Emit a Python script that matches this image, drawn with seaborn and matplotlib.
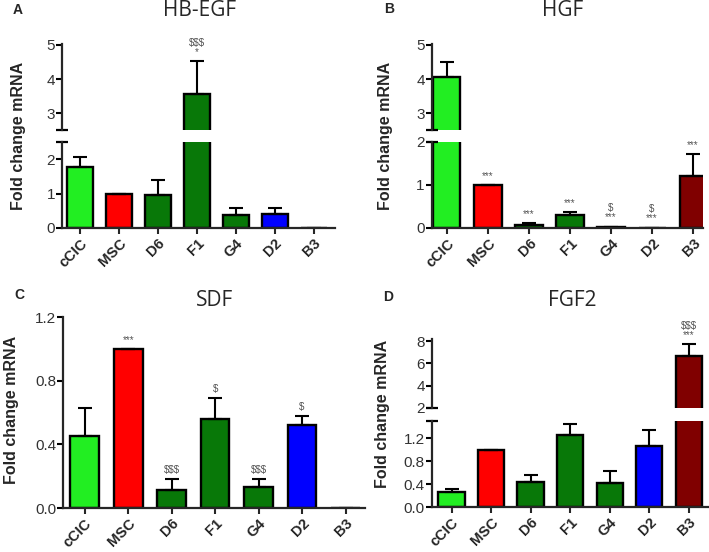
import matplotlib
matplotlib.use('agg')
import matplotlib.pyplot as plt
import seaborn as sns

cats = ['cCIC', 'MSC', 'D6', 'F1', 'G4', 'D2', 'B3']
colors = ['#22ee22', '#ff0000', '#087808', '#087808', '#087808', '#0000ff', '#800000']

hbegf = [1.78, 1.0, 0.95, 3.55, 0.37, 0.40, 0.0]
hbegf_err = [0.27, 0.0, 0.43, 0.97, 0.20, 0.17, 0.0]
hbegf_marks = ['', '', '', '$$$\n*', '', '', '']

hgf = [4.07, 1.0, 0.08, 0.30, 0.03, 0.01, 1.20]
hgf_err = [0.43, 0.0, 0.03, 0.06, 0.0, 0.0, 0.52]
hgf_marks = ['', '***', '***', '***', '$\n***', '$\n***', '***']

sdf = [0.45, 1.0, 0.11, 0.56, 0.13, 0.52, 0.0]
sdf_err = [0.18, 0.0, 0.07, 0.13, 0.05, 0.06, 0.0]
sdf_marks = ['', '***', '$$$', '$', '$$$', '$', '']

fgf2 = [0.27, 1.0, 0.43, 1.26, 0.41, 1.07, 6.70]
fgf2_err = [0.05, 0.0, 0.13, 0.18, 0.22, 0.28, 1.00]
fgf2_marks = ['', '', '', '', '', '', '$$$\n***']

sns.set_style('ticks')
plt.rcParams['font.family'] = ['Liberation Sans', 'DejaVu Sans']
plt.rcParams['axes.linewidth'] = 1.6

fig = plt.figure(figsize=(7.09, 5.52), dpi=100)


def bars(ax, vals, errs, marks, xlim, ylim, ticks, lower=True):
    sns.barplot(x=cats, y=vals, hue=cats, palette=colors, legend=False, ax=ax,
                width=0.66, edgecolor='black', linewidth=1.7, saturation=1)
    ax.errorbar(range(len(cats)), vals, yerr=[[0] * len(cats), errs], fmt='none',
                ecolor='black', elinewidth=1.5, capsize=5, capthick=1.5)
    ax.set_xlim(*xlim)
    ax.set_ylim(*ylim)
    ax.set_yticks(ticks)
    ax.set_ylabel('')
    ax.set_xlabel('')
    ax.tick_params(axis='y', length=4, width=1.5, labelsize=11, colors='black', labelcolor='#333333', pad=1)
    sns.despine(ax=ax, top=True, right=True, bottom=not lower)
    if lower:
        ax.tick_params(axis='x', length=4, width=1.5, pad=2)
        ax.set_xticks(range(len(cats)))
        ax.set_xticklabels(cats, rotation=45, ha='right', rotation_mode='anchor',
                           fontsize=10.5, fontweight='bold')
    else:
        ax.set_xticks([])
    for i, m in enumerate(marks):
        if not m:
            continue
        top = vals[i] + errs[i]
        if ylim[0] <= top <= ylim[1]:
            ax.annotate(m, (i, top), xytext=(0, 3), textcoords='offset points',
                        ha='center', va='bottom', fontsize=7, color='#555555',
                        linespacing=0.9, parse_math=False)


def cap(ax, y):
    ax.plot([0], [y], marker='_', markersize=8, markeredgewidth=1.6, color='black',
            transform=ax.transAxes, clip_on=False)


# A
axA1 = fig.add_axes([0.0874, 0.587, 0.385, 0.156])
axA2 = fig.add_axes([0.0874, 0.764, 0.385, 0.156])
bars(axA1, hbegf, hbegf_err, hbegf_marks, (-0.46, 6.54), (0, 2.5), [0, 1, 2])
bars(axA2, hbegf, hbegf_err, hbegf_marks, (-0.46, 6.54), (2.5, 5.02), [3, 4, 5], lower=False)
cap(axA1, 1)
cap(axA2, 0)

# B
axB1 = fig.add_axes([0.609, 0.587, 0.383, 0.156])
axB2 = fig.add_axes([0.609, 0.764, 0.383, 0.156])
bars(axB1, hgf, hgf_err, hgf_marks, (-0.37, 6.25), (0, 2.0), [0, 1, 2])
bars(axB2, hgf, hgf_err, hgf_marks, (-0.37, 6.25), (2.5, 5.02), [3, 4, 5], lower=False)
cap(axB1, 1)
cap(axB2, 0)

# C
axC = fig.add_axes([0.0889, 0.0797, 0.426, 0.346])
bars(axC, sdf, sdf_err, sdf_marks, (-0.5, 6.45), (0, 1.2), [0.0, 0.4, 0.8, 1.2])
axC.set_yticklabels(['0.0', '0.4', '0.8', '1.2'])

# D
axD1 = fig.add_axes([0.609, 0.0815, 0.39, 0.156])
axD2 = fig.add_axes([0.609, 0.261, 0.39, 0.125])
bars(axD1, fgf2, fgf2_err, fgf2_marks, (-0.5, 6.5), (0, 1.5), [0.0, 0.4, 0.8, 1.2])
axD1.set_yticklabels(['0.0', '0.4', '0.8', '1.2'])
bars(axD2, fgf2, fgf2_err, fgf2_marks, (-0.5, 6.5), (2, 8.2), [2, 4, 6, 8], lower=False)
cap(axD1, 1)
cap(axD2, 0)

# titles, letters, y labels
for x, y, t in [(200, 11, 'HB-EGF'), (563, 11, 'HGF'), (215, 301, 'SDF'), (572, 301, 'FGF2')]:
    fig.text(x / 709, 1 - y / 552, t, ha='center', va='center', fontsize=15,
             family=['Open Sans', 'DejaVu Sans'])
for x, y, t in [(18, 10, 'A'), (389, 9, 'B'), (19, 295, 'C'), (388, 297, 'D')]:
    fig.text(x / 709, 1 - y / 552, t, ha='center', va='center', fontsize=10, fontweight='bold')
for x, y in [(18.5, 136), (385, 136), (12, 410), (382, 414)]:
    fig.text(x / 709, 1 - y / 552, 'Fold change mRNA', ha='center', va='center',
             rotation=90, fontsize=11.5, fontweight='bold')

fig.savefig('out.png', dpi=100)
